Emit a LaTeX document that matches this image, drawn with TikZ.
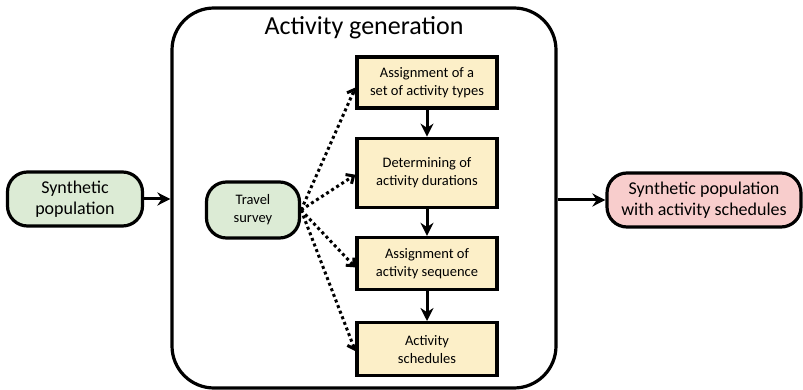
\documentclass[tikz,border=0pt]{standalone}
\usepackage{fontspec}
\setmainfont{Carlito}
\usetikzlibrary{arrows.meta,positioning}
\definecolor{surveygreen}{HTML}{DCEBD5}
\definecolor{stepyellow}{HTML}{FCEFC8}
\definecolor{resultpink}{HTML}{F8CDCC}
\tikzset{
  pill/.style={draw,line width=3.2pt,rounded corners=20pt,align=center,inner sep=2pt},
  stepbox/.style={draw,line width=3.2pt,fill=stepyellow,minimum width=140pt,align=center,font=\fontsize{14.5}{18}\selectfont},
  flow/.style={line width=3pt,-{Stealth[length=13pt,width=13pt]}},
  dotflow/.style={line width=3pt,dash pattern=on 3pt off 3pt,-{Straight Barb[length=6pt,width=11pt]}}
}

\begin{document}
\begin{tikzpicture}[x=1pt,y=-1pt,node distance=27pt]
   \useasboundingbox (0,0) rectangle (803,390);
   \node[draw,line width=3.2pt,rounded corners=42pt,minimum width=384pt,minimum height=380pt] (gen) at (364,198) {};
   \node[font=\fontsize{26}{30}\selectfont,anchor=north] (title) at (364,13) {Activity generation};
   \node[pill,fill=surveygreen,minimum width=135pt,minimum height=54pt,font=\fontsize{18}{21}\selectfont] (pop) at (75,199) {Synthetic\\population};
   \node[pill,fill=resultpink,minimum width=194pt,minimum height=54pt,font=\fontsize{18}{21}\selectfont] (out) at (704,200) {Synthetic population\\with activity schedules};
   \node[pill,fill=surveygreen,minimum width=93pt,minimum height=56pt,font=\fontsize{14.5}{18}\selectfont] (survey) at (253,210) {Travel\\survey};
   \node[stepbox,minimum height=51pt] (types) at (427,82.5) {Assignment of a\\set of activity types};
   \node[stepbox,minimum height=69pt,below=27pt of types] (dur) {Determining of\\activity durations};
   \node[stepbox,minimum height=52pt,below=27pt of dur] (seq) {Assignment of\\activity sequence};
   \node[stepbox,minimum height=53pt,below=30pt of seq] (sched) {Activity\\schedules};
   \draw[flow] (pop) -- (pop -| gen.west);
   \draw[flow] (out -| gen.east) -- (out);
   \draw[flow] (types) -- (dur);
   \draw[flow] (dur) -- (seq);
   \draw[flow] (seq) -- (sched);
   \draw[dotflow] (survey.east) -- ([yshift=-5pt]types.west);
   \draw[dotflow] (survey.east) -- ([yshift=-2pt]dur.west);
   \draw[dotflow] (survey.east) -- ([yshift=-4pt]seq.west);
   \draw[dotflow] (survey.east) -- ([yshift=-2pt]sched.west);
\end{tikzpicture}
\end{document}
